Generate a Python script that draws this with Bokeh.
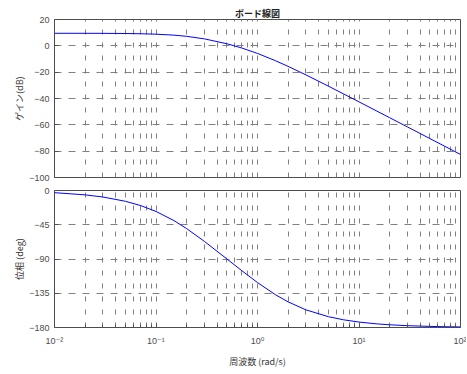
from bokeh.plotting import figure
from bokeh.layouts import column
from bokeh.models import FixedTicker, CustomJSTickFormatter, Range1d
from bokeh.embed import file_html
from bokeh.resources import INLINE

# ---- data ----
freq = [0.01, 0.02, 0.03, 0.05, 0.07, 0.1, 0.15, 0.2, 0.3, 0.5, 0.7, 1.0,
        1.5, 2.0, 3.0, 5.0, 7.0, 10.0, 15.0, 20.0, 30.0, 50.0, 70.0, 100.0]
gain_db = [9.53, 9.51, 9.48, 9.36, 9.19, 8.85, 8.11, 7.22, 5.29, 1.58, -1.65, -5.77,
           -11.26, -15.58, -22.07, -30.64, -36.40, -42.55, -49.56, -54.55, -61.59,
           -70.46, -76.30, -82.50]
phase_deg = [-2.86, -5.72, -8.56, -14.17, -19.64, -27.51, -39.49, -49.97, -66.89,
             -90.0, -105.34, -120.96, -136.85, -146.30, -156.81, -165.83, -169.82,
             -172.86, -175.24, -176.42, -177.61, -178.56, -178.98, -179.29]

x_ticks = [0.01, 0.1, 1, 10, 100]
x_tick_labels = ["10\u207b\u00b2", "10\u207b\u00b9", "10\u2070", "10\u00b9", "10\u00b2"]
x_minor = [m * d for d in [0.01, 0.1, 1, 10] for m in range(2, 10)]
gain_ticks = [-100, -80, -60, -40, -20, 0, 20]
phase_ticks = [-180, -135, -90, -45, 0]

title_text = "ボード線図"
gain_label = "ゲイン(dB)"
phase_label = "位相 (deg)"
x_label = "周波数 (rad/s)"

CJK = "Noto Sans CJK JP"
NUM = "Liberation Sans, DejaVu Sans"
GRID = "#808080"
FRAME = "#4d4d4d"
TXT = "#4d4d4d"


def style(p, yticks, ylabel):
    p.outline_line_color = FRAME
    p.outline_line_width = 1
    p.background_fill_color = "white"
    p.border_fill_color = "white"
    p.yaxis.ticker = FixedTicker(ticks=yticks, minor_ticks=[])
    p.yaxis.axis_label = ylabel
    p.yaxis.axis_label_text_font = CJK
    p.yaxis.axis_label_text_font_size = "9px"
    p.yaxis.axis_label_text_font_style = "normal"
    p.yaxis.axis_label_text_color = "#333333"
    p.yaxis.axis_label_standoff = 0
    p.yaxis.major_label_text_font = NUM
    p.yaxis.major_label_text_font_size = "9px"
    p.yaxis.major_label_text_color = TXT
    p.yaxis.major_label_standoff = 5
    p.yaxis.major_tick_in = 4
    p.yaxis.major_tick_out = 0
    p.yaxis.major_tick_line_color = FRAME
    p.yaxis.axis_line_color = None
    p.xaxis.ticker = FixedTicker(ticks=x_ticks, minor_ticks=x_minor)
    p.xaxis.axis_line_color = None
    p.xaxis.major_tick_in = 4
    p.xaxis.major_tick_out = 0
    p.xaxis.minor_tick_in = 3
    p.xaxis.minor_tick_out = 0
    p.xaxis.major_tick_line_color = FRAME
    p.xaxis.minor_tick_line_color = FRAME
    p.xgrid.grid_line_color = GRID
    p.xgrid.grid_line_dash = "5 8"
    p.xgrid.minor_grid_line_color = GRID
    p.xgrid.minor_grid_line_dash = "5 8"
    p.ygrid.grid_line_color = GRID
    p.ygrid.grid_line_dash = "7 7"


p1 = figure(width=466, height=184, x_axis_type="log",
            x_range=Range1d(0.01, 100), y_range=Range1d(-100, 20),
            output_backend="svg", toolbar_location=None, tools="",
            min_border_left=54, min_border_right=6,
            min_border_top=19, min_border_bottom=7)
p1.title.text = title_text
p1.title.align = "center"
p1.title.text_font = CJK
p1.title.text_font_size = "9px"
p1.title.text_font_style = "bold"
p1.title.text_color = "#222222"
p1.title.standoff = 0
p1.title.offset = 0
style(p1, gain_ticks, gain_label)
p1.xaxis.visible = False
p1.line(freq, gain_db, line_color="#0000ff", line_width=1)

p2 = figure(width=466, height=190, x_axis_type="log",
            x_range=p1.x_range, y_range=Range1d(-180, 0),
            output_backend="svg", toolbar_location=None, tools="",
            min_border_left=54, min_border_right=6,
            min_border_top=6, min_border_bottom=47)
style(p2, phase_ticks, phase_label)
p2.xaxis.formatter = CustomJSTickFormatter(
    args=dict(labels=x_tick_labels),
    code="return labels[Math.round(Math.log10(tick)) + 2];")
p2.xaxis.major_label_text_font = NUM
p2.xaxis.major_label_text_font_size = "9px"
p2.xaxis.major_label_text_color = TXT
p2.xaxis.major_label_standoff = 8
p2.xaxis.axis_label = x_label
p2.xaxis.axis_label_text_font = CJK
p2.xaxis.axis_label_text_font_size = "9px"
p2.xaxis.axis_label_text_font_style = "normal"
p2.xaxis.axis_label_text_color = "#333333"
p2.xaxis.axis_label_standoff = 6
p2.line(freq, phase_deg, line_color="#0000ff", line_width=1)

layout = column(p1, p2, spacing=0)
open("out.html", "w").write(file_html(layout, INLINE))
